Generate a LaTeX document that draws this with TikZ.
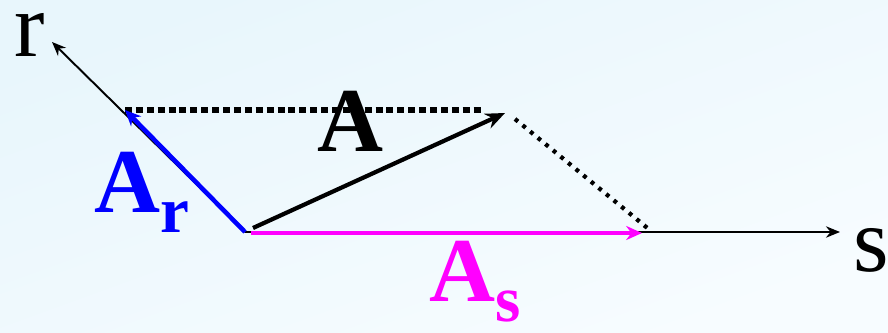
\documentclass[tikz,border=0pt]{standalone}
\usepackage{fontspec}
\setmainfont{Liberation Serif}
\usepackage{tikz}
\usetikzlibrary{arrows.meta,positioning,calc}
\definecolor{vecblue}{RGB}{0,0,255}
\definecolor{vecmagenta}{RGB}{255,0,255}
\definecolor{bgtop}{RGB}{232,246,252}
\definecolor{bgbottom}{RGB}{247,252,255}
\newcommand{\lowsub}[1]{\raisebox{-0.22em}{\fontsize{37}{40}\selectfont\bfseries #1}}

\begin{document}
\begin{tikzpicture}[x=0.02cm, y=0.02cm,
  axis/.style={draw=black, line width=1.1pt, -{Stealth[length=8pt, width=6.5pt]}},
  compvec/.style={line width=2.6pt, -{Stealth[length=9pt, width=8pt]}},
  boxdots/.style={draw=black, line width=3.2pt, dash pattern=on 4pt off 2.2pt},
  smalldots/.style={draw=black, line width=2.4pt, dash pattern=on 2.2pt off 3.4pt},
  biglabel/.style={font=\fontsize{52}{60}\selectfont, inner sep=0pt}]
  % Background
  \shade[top color=bgtop, bottom color=bgbottom, shading angle=20] (0,0) rectangle (888,332);
  \useasboundingbox (0,0) rectangle (888,332);

  % Points
  \coordinate (O) at (245,100);
  \coordinate (rtip) at (52,290);
  \coordinate (stip) at (840,100);
  \coordinate (Artip) at (125,222);
  \coordinate (Astart) at (253,104);
  \coordinate (Atip) at (505,219);
  \coordinate (Asstart) at (251,99);
  \coordinate (Astip) at (642,99);
  \coordinate (hdotend) at (484,222);
  \coordinate (ddotstart) at (515,213);
  \coordinate (ddotend) at (651,101);

  % Axes
  \draw[axis] (O) -- (rtip);
  \draw[axis] (O) -- (stip);
  \node[biglabel] (rlabel) at (30,297) {r};
  \node[biglabel] (slabel) at (871,82) {s};

  % Dotted guide lines
  \draw[boxdots] (Artip) -- (hdotend);
  \draw[smalldots] (ddotstart) -- (ddotend);

  % Vector A and its components
  \draw[compvec, draw=vecblue] (O) -- (Artip);
  \draw[compvec, draw=vecmagenta] (Asstart) -- (Astip);
  \draw[compvec, line width=2.4pt, -{Stealth[length=11pt, width=9pt]}] (Astart) -- (Atip);

  % Labels
  \node[biglabel, font=\fontsize{52}{60}\selectfont\bfseries] (Alabel) at (350,211) {A};
  \node[biglabel, text=vecblue, anchor=base west] (Arlabel) at (94,120) {\textbf{A}\lowsub{r}};
  \node[biglabel, text=vecmagenta, anchor=base west] (Aslabel) at (429,31) {\textbf{A}\lowsub{s}};
\end{tikzpicture}
\end{document}
